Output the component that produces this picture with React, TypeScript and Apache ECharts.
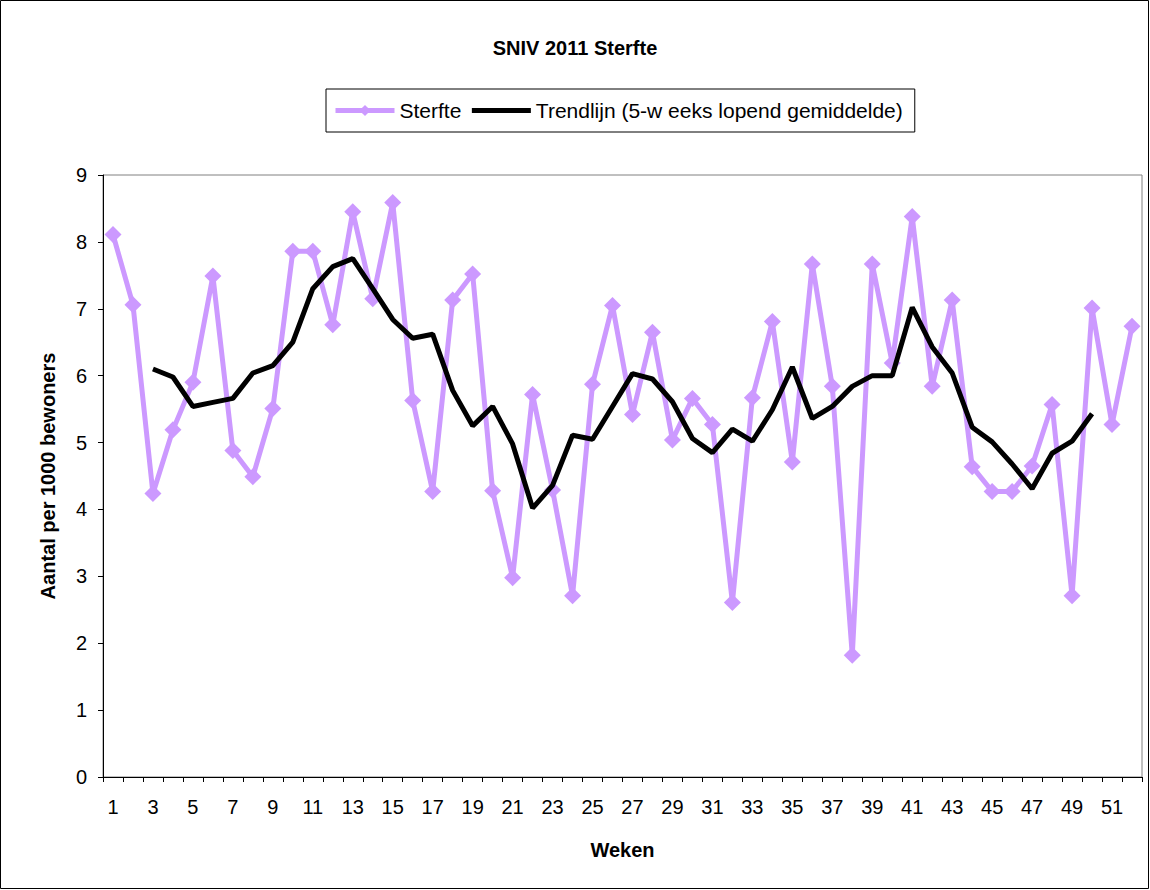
import React, { useEffect, useRef } from "react";
import * as echarts from "echarts";

const weeks: string[] = Array.from({ length: 52 }, (_, i) => String(i + 1));

const sterfte: number[] = [
  8.11, 7.06, 4.24, 5.19, 5.9, 7.49, 4.88, 4.49, 5.51, 7.86,
  7.86, 6.76, 8.45, 7.15, 8.59, 5.63, 4.27, 7.13, 7.52, 4.28,
  2.98, 5.72, 4.29, 2.71, 5.87, 7.05, 5.42, 6.65, 5.04, 5.66,
  5.27, 2.61, 5.67, 6.81, 4.71, 7.67, 5.84, 1.82, 7.67, 6.19,
  8.38, 5.84, 7.13, 4.64, 4.27, 4.27, 4.65, 5.57, 2.71, 7.01,
  5.27, 6.74,
];

const trend: (number | null)[] = [
  null, null, 6.1, 5.98, 5.54, 5.6, 5.66, 6.04, 6.15, 6.5,
  7.3, 7.63, 7.75, 7.3, 6.84, 6.56, 6.62, 5.78, 5.25, 5.54,
  4.98, 4.02, 4.36, 5.11, 5.05, 5.54, 6.03, 5.95, 5.61, 5.06,
  4.85, 5.2, 5.02, 5.49, 6.13, 5.36, 5.54, 5.84, 6.0, 6.0,
  7.02, 6.43, 6.04, 5.23, 5.01, 4.68, 4.31, 4.84, 5.02, 5.43,
  null, null,
];

const FONT = "'Liberation Sans', Arial, sans-serif";

export default function App() {
  const ref = useRef<HTMLDivElement>(null);
  useEffect(() => {
    if (!ref.current) return;
    const chart = echarts.init(ref.current, undefined, { renderer: "svg" });
    chart.setOption({
      animation: false,
      backgroundColor: "#ffffff",
      textStyle: { fontFamily: FONT },
      title: {
        text: "SNIV 2011 Sterfte",
        left: "center",
        top: 33,
        textStyle: { fontFamily: FONT, fontSize: 20, fontWeight: "bold", color: "#000" },
      },
      legend: {
        top: 89,
        left: 326,
        padding: [11, 12, 11, 7],
        borderColor: "#000",
        borderWidth: 1,
        itemGap: 8,
        itemWidth: 59,
        itemHeight: 14,
        textStyle: { fontFamily: FONT, fontSize: 21, color: "#000" },
        data: [
          { name: "Sterfte", lineStyle: { width: 5 } },
          {
            name: "Trendlijn (5-w eeks lopend gemiddelde)",
            lineStyle: { width: 5 },
            itemStyle: { opacity: 0 },
          },
        ],
      },
      grid: { left: 103, right: 8, top: 175, bottom: 113, show: true, borderColor: "#808080", borderWidth: 1 },
      xAxis: {
        type: "category",
        data: weeks,
        boundaryGap: true,
        name: "Weken",
        nameLocation: "middle",
        nameGap: 63,
        nameTextStyle: { fontFamily: FONT, fontSize: 20, fontWeight: "bold", color: "#000" },
        axisLine: { lineStyle: { color: "#000", width: 1 } },
        axisTick: { show: true, interval: 0, length: 5, inside: false, lineStyle: { color: "#000" } },
        axisLabel: { interval: 1, fontFamily: FONT, fontSize: 20, color: "#000", margin: 20 },
        splitLine: { show: false },
      },
      yAxis: {
        type: "value",
        min: 0,
        max: 9,
        interval: 1,
        name: "Aantal per 1000 bewoners",
        nameLocation: "middle",
        nameGap: 45,
        nameTextStyle: { fontFamily: FONT, fontSize: 20, fontWeight: "bold", color: "#000" },
        axisLine: { show: true, lineStyle: { color: "#000", width: 1 } },
        axisTick: { show: true, length: 5, lineStyle: { color: "#000" } },
        axisLabel: { fontFamily: FONT, fontSize: 20, color: "#000", margin: 16 },
        splitLine: { show: false },
      },
      series: [
        {
          name: "Sterfte",
          type: "line",
          data: sterfte,
          symbol: "diamond",
          symbolSize: 17,
          showAllSymbol: true,
          lineStyle: { color: "#CC99FF", width: 5 },
          itemStyle: { color: "#CC99FF" },
          z: 2,
        },
        {
          name: "Trendlijn (5-w eeks lopend gemiddelde)",
          type: "line",
          data: trend,
          symbol: "none",
          connectNulls: false,
          lineStyle: { color: "#000", width: 5 },
          itemStyle: { color: "#000" },
          z: 3,
        },
      ],
      graphic: [
        {
          type: "rect",
          shape: { x: 0.5, y: 0.5, width: 1148, height: 888 },
          style: { fill: "none", stroke: "#000", lineWidth: 1 },
          silent: true,
        },
      ],
    });
    return () => chart.dispose();
  }, []);
  return <div ref={ref} style={{ width: 1150, height: 890, position: "absolute", left: 0, top: 0 }} />;
}
